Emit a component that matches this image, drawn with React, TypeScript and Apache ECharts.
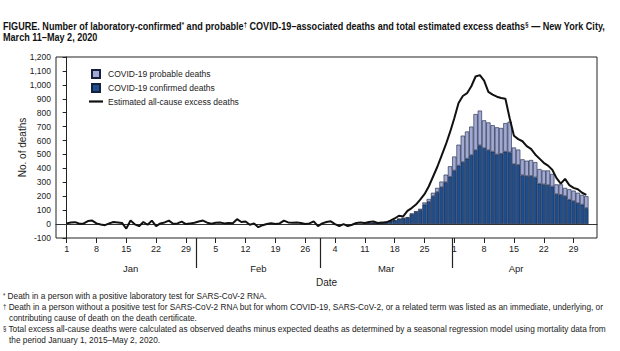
import React, { useEffect, useRef } from 'react';
import * as echarts from 'echarts';

// ---------- data ----------
// Estimated all-cause excess deaths, one value per day, Jan 1 – May 2, 2020
const excessJan = [5, 12, 14, 2, 5, 22, 25, 5, -3, -8, 5, 15, 12, 8, -32, 25, -2, -15, 15, -5, 25, -15, 5, 12, 25, 2, 5, 18, 0, 5, 10];
const excessFeb = [18, 25, 10, 2, 10, 12, 5, 8, 6, 35, 15, 18, -5, 5, -22, -8, 0, 7, 0, 5, 25, 12, 10, 12, 8, 0, 5, 20, -15];
const excessMar = [5, 15, 20, 0, -15, 0, -15, -5, 8, 12, 8, 15, 18, 8, 12, 12, 25, 40, 60, 55, 95, 115, 140, 175, 215, 270, 340, 410, 490, 570, 660];
const excessApr = [760, 870, 920, 940, 990, 1060, 1070, 1030, 950, 930, 915, 905, 900, 760, 635, 610, 595, 560, 540, 500, 470, 440, 420, 390, 330, 290, 325, 280, 260, 250];
const excessMay = [225, 210];
const excessDeaths = [...excessJan, ...excessFeb, ...excessMar, ...excessApr, ...excessMay];

// COVID-19 deaths, one value per day, Mar 11 – May 2, 2020
const barStartDate = '2020-03-11';
const confirmedDeaths = [
  2, 3, 5, 7, 10, 14, 18, 24, 35, 40, 45, 70, 85, 100, 140, 160, 200, 230, 265, 300, 340,
  385, 420, 445, 470, 495, 530, 565, 545, 530, 520, 500, 505, 520, 515, 430, 425, 350, 345, 345, 335, 290, 285, 280, 270, 215, 210, 200, 175, 165, 150,
  140, 115,
];
const probableDeaths = [
  0, 0, 0, 0, 1, 1, 2, 3, 3, 4, 5, 6, 8, 10, 15, 20, 25, 30, 40, 55, 75,
  100, 150, 190, 195, 205, 260, 250, 200, 200, 190, 195, 185, 205, 220, 120, 110, 115, 110, 115, 110, 105, 100, 105, 90, 70, 75, 60, 75, 75, 75,
  70, 85,
];

// axis ticks
const weekTickDates = [
  '2020-01-01', '2020-01-08', '2020-01-15', '2020-01-22', '2020-01-29',
  '2020-02-05', '2020-02-12', '2020-02-19', '2020-02-26',
  '2020-03-04', '2020-03-11', '2020-03-18', '2020-03-25',
  '2020-04-01', '2020-04-08', '2020-04-15', '2020-04-22', '2020-04-29',
];
const monthLabels = ['Jan', 'Feb', 'Mar', 'Apr'];
const monthStartDates = ['2020-01-01', '2020-02-01', '2020-03-01', '2020-04-01', '2020-05-01'];

const seriesNames = {
  probable: 'COVID-19 probable deaths',
  confirmed: 'COVID-19 confirmed deaths',
  excess: 'Estimated all-cause excess deaths',
};

const titleLines = [
  { parts: [['FIGURE. Number of laboratory-confirmed', '*'], [' and probable', '†'], [' COVID-19–associated deaths and total estimated excess deaths', '§'], [' — New York City,', '']] },
  { parts: [['March 11–May 2, 2020', '']] },
];

const footnotes = [
  { sym: '*', text: 'Death in a person with a positive laboratory test for SARS-CoV-2 RNA.' },
  { sym: '†', text: 'Death in a person without a positive test for SARS-CoV-2 RNA but for whom COVID-19, SARS-CoV-2, or a related term was listed as an immediate, underlying, or' },
  { sym: '', text: 'contributing cause of death on the death certificate.' },
  { sym: '§', text: 'Total excess all-cause deaths were calculated as observed deaths minus expected deaths as determined by a seasonal regression model using mortality data from' },
  { sym: '', text: 'the period January 1, 2015–May 2, 2020.' },
];

// ---------- helpers ----------
const DAY = 86400000;
const t0 = Date.UTC(2020, 0, 1);
const dayIndex = (iso: string) => {
  const [y, m, d] = iso.split('-').map(Number);
  return Math.round((Date.UTC(y, m - 1, d) - t0) / DAY);
};
const dayOfMonth = (idx: number) => new Date(t0 + Math.round(idx) * DAY).getUTCDate();
const isoOf = (idx: number) => new Date(t0 + idx * DAY).toISOString().slice(0, 10);
const fmtThousands = (v: number) => {
  const s = String(Math.abs(v)).replace(/\B(?=(\d{3})+(?!\d))/g, ',');
  return (v < 0 ? '-' : '') + s;
};

const FONT = "'Liberation Sans', Arial, sans-serif";
const PAD = 2; // empty days on each side of the date axis

function measure(text: string, font: string) {
  const c = document.createElement('canvas').getContext('2d');
  if (!c) return text.length * 5;
  c.font = font;
  return c.measureText(text).width;
}

export default function App() {
  const ref = useRef<HTMLDivElement>(null);

  useEffect(() => {
    if (!ref.current) return;
    const chart = echarts.init(ref.current, null, { renderer: 'svg' });

    const nDays = excessDeaths.length;
    const lastDay = nDays - 1;
    const barStart = dayIndex(barStartDate);
    const weekTicks = weekTickDates.map(dayIndex);
    const monthStarts = monthStartDates.map(dayIndex);
    const separators = monthStarts.slice(1, 4).map((d) => d - 0.5);
    const monthCenters = monthLabels.map((_, i) => {
      const a = monthStarts[i];
      const b = Math.min(monthStarts[i + 1] - 1, lastDay);
      return (a + b) / 2;
    });

    // category axis: padding + every day
    const categories: string[] = [];
    for (let i = -PAD; i < nDays + PAD; i++) categories.push(i < 0 || i > lastDay ? `pad${i}` : isoOf(i));
    const toCat = (arr: (number | null)[], start: number) =>
      categories.map((_, k) => {
        const d = k - PAD - start;
        return d >= 0 && d < arr.length ? arr[d] : null;
      });

    const barStyle = (color: string) => ({
      color,
      borderColor: '#16213f',
      borderWidth: 0.6,
    });

    // ----- title (fit to width) -----
    const TITLE_SIZE = 10;
    const SUP_SIZE = 6.5;
    const titleFont = `bold ${TITLE_SIZE}px ${FONT}`;
    const supFont = `bold ${SUP_SIZE}px ${FONT}`;
    const w1 = titleLines[0].parts.reduce((s, [a, b]) => s + measure(a, titleFont) + (b ? measure(b, supFont) : 0), 0);
    const titleScale = 602 / w1;

    const graphics: any[] = titleLines.map((line, i) => ({
      type: 'text',
      x: 3,
      y: 26 + i * 11,
      scaleX: titleScale,
      style: {
        text: line.parts.map(([a, b]) => a + (b ? `{s|${b}}` : '')).join(''),
        fontFamily: FONT,
        fontSize: TITLE_SIZE,
        fontWeight: 'bold',
        fill: '#111',
        verticalAlign: 'middle',
        rich: { s: { fontSize: SUP_SIZE, fontWeight: 'bold', verticalAlign: 'top', fontFamily: FONT, fill: '#111' } },
      },
    }));

    // ----- footnotes (fit to width) -----
    const FN_SIZE = 9;
    const fnFont = `${FN_SIZE}px ${FONT}`;
    const fnScale = 596 / measure(footnotes[1].text, fnFont);
    footnotes.forEach((f, i) => {
      graphics.push({
        type: 'text',
        x: f.sym ? 3 : 9,
        y: 296 + i * 11,
        scaleX: fnScale,
        style: {
          text: f.sym ? `{s|${f.sym}} ${f.text}` : f.text,
          fontFamily: FONT,
          fontSize: FN_SIZE,
          fill: '#222',
          verticalAlign: 'middle',
          rich: { s: { fontSize: 6.5, verticalAlign: 'top', fontFamily: FONT, fill: '#222' } },
        },
      });
    });

    const sideAxis = {
      type: 'value',
      position: 'bottom',
      min: -PAD - 0.5,
      max: lastDay + PAD + 0.5,
      axisLine: { show: false },
      splitLine: { show: false },
    };

    chart.setOption({
      animation: false,
      textStyle: { fontFamily: FONT },
      grid: {
        left: 56,
        right: 23,
        top: 57,
        bottom: 113,
        show: true,
        borderColor: '#222',
        borderWidth: 1,
        backgroundColor: 'transparent',
      },
      legend: {
        data: [
          { name: seriesNames.probable, icon: 'path://M0,0H10V10H0Z' },
          { name: seriesNames.confirmed, icon: 'path://M0,0H10V10H0Z' },
          { name: seriesNames.excess, icon: 'path://M0,0H14V2.2H0Z', itemStyle: { color: '#111', borderWidth: 0 } },
        ],
        orient: 'vertical',
        left: 84,
        top: 64,
        itemWidth: 14,
        itemHeight: 8,
        itemGap: 4,
        textStyle: { fontFamily: FONT, fontSize: 8.5, color: '#222' },
      },
      xAxis: [
        {
          type: 'category',
          data: categories,
          boundaryGap: true,
          axisLine: { show: true, lineStyle: { color: '#222', width: 1 } },
          axisTick: { show: false },
          axisLabel: { show: false },
          splitLine: { show: false },
        },
        {
          ...sideAxis,
          axisTick: { show: true, customValues: weekTicks, length: 5, lineStyle: { color: '#222' } },
          axisLabel: {
            customValues: weekTicks,
            formatter: (v: number) => String(dayOfMonth(v)),
            fontFamily: FONT,
            fontSize: 9,
            color: '#222',
            margin: 6,
          },
        },
        {
          ...sideAxis,
          name: 'Date',
          nameLocation: 'middle',
          nameGap: 38,
          nameTextStyle: { fontFamily: FONT, fontSize: 10, color: '#222' },
          axisTick: { show: true, customValues: separators, length: 30, lineStyle: { color: '#222', width: 1.2 } },
          axisLabel: {
            customValues: monthCenters,
            formatter: (v: number) => {
              const i = monthCenters.findIndex((c) => Math.abs(c - v) < 0.01);
              return i >= 0 ? monthLabels[i] : '';
            },
            fontFamily: FONT,
            fontSize: 9.5,
            color: '#222',
            margin: 25,
          },
        },
      ],
      yAxis: {
        type: 'value',
        min: -100,
        max: 1200,
        interval: 100,
        name: 'No. of deaths',
        nameLocation: 'middle',
        nameGap: 29,
        nameMoveOverlap: false,
        nameTextStyle: { fontFamily: FONT, fontSize: 10, color: '#222' },
        axisLine: { show: true, lineStyle: { color: '#222' } },
        axisTick: { show: true, length: 4, lineStyle: { color: '#222' } },
        axisLabel: { formatter: fmtThousands, fontFamily: FONT, fontSize: 8.5, color: '#222', margin: 5 },
        splitLine: { show: false },
      },
      series: [
        {
          name: seriesNames.confirmed,
          type: 'bar',
          stack: 'deaths',
          xAxisIndex: 0,
          barCategoryGap: '0%',
          itemStyle: barStyle('#1f4e8d'),
          data: toCat(confirmedDeaths, barStart),
        },
        {
          name: seriesNames.probable,
          type: 'bar',
          stack: 'deaths',
          xAxisIndex: 0,
          barCategoryGap: '0%',
          itemStyle: barStyle('#a2a9d2'),
          data: toCat(probableDeaths, barStart),
        },
        {
          name: seriesNames.excess,
          type: 'line',
          xAxisIndex: 0,
          symbol: 'none',
          z: 5,
          lineStyle: { color: '#111', width: 2 },
          itemStyle: { color: '#111' },
          data: toCat(excessDeaths, 0),
          markLine: {
            silent: true,
            symbol: ['none', 'none'],
            label: { show: false },
            lineStyle: { color: '#333', width: 1, type: 'solid' },
            data: [{ yAxis: 0 }],
          },
        },
      ],
      graphic: graphics,
    });

    return () => chart.dispose();
  }, []);

  return (
    <div
      ref={ref}
      style={{ position: 'fixed', left: 0, top: 0, width: 620, height: 351, background: '#fff' }}
    />
  );
}
